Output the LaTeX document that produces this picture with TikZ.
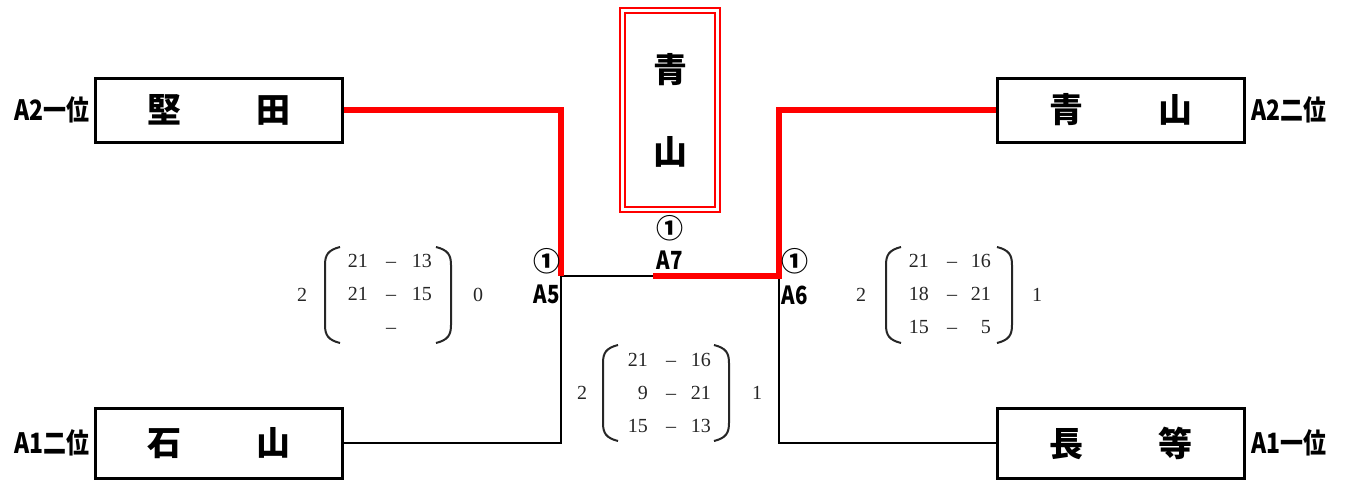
\documentclass[tikz,border=0pt]{standalone}
\usepackage{fontspec}
\usetikzlibrary{positioning}
\newfontfamily\jpfont{Noto Sans CJK JP}
\newfontfamily\lblfont{Noto Sans CJK JP}[FakeStretch=0.82]
\newfontfamily\ptfont{Liberation Serif}
\definecolor{scoregray}{HTML}{262626}
\definecolor{winred}{HTML}{FF0000}

\tikzset{
	team/.style={draw, line width=3pt, minimum width=247pt, minimum height=64pt, inner sep=0pt, font=\jpfont\bfseries\fontsize{34}{34}\selectfont},
	champ/.style={draw=winred, double, double distance=3pt, line width=2pt, minimum width=95pt, minimum height=199pt, inner sep=0pt, align=center, font=\jpfont\bfseries\fontsize{34}{82}\selectfont},
	lbl/.style={inner sep=0pt, font=\lblfont\bfseries\fontsize{28}{28}\selectfont},
	rnd/.style={inner sep=0pt, font=\lblfont\bfseries\fontsize{25}{25}\selectfont},
	circ/.style={inner sep=0pt, font=\jpfont\bfseries\fontsize{27}{27}\selectfont},
	win/.style={draw=winred, line width=6.5pt},
	lose/.style={line width=1.2pt},
	pt/.style={inner sep=0pt, text height=13pt, text depth=0pt, text=scoregray, font=\ptfont\fontsize{20}{20}\selectfont},
	paren/.style={line width=2pt, scoregray}
}

\begin{document}
\begin{tikzpicture}[x=1pt, y=-1pt]
	\useasboundingbox (0,0) rectangle (1345,482);
	
	%teams
	\node[team] (kat) at (219,110) {堅\hspace{76pt}田};
	\node[team, minimum height=70pt] (ish) at (219,443) {石\hspace{76pt}山};
	\node[team] (aoy) at (1121,110) {青\hspace{76pt}山};
	\node[team, minimum height=70pt] (nag) at (1121,443) {長\hspace{76pt}等};
	\node[lbl, left=4pt of kat] (kat-l) {A2一位};
	\node[lbl, left=4pt of ish] (ish-l) {A1二位};
	\node[lbl, right=5pt of aoy] (aoy-l) {A2二位};
	\node[lbl, right=5pt of nag] (nag-l) {A1一位};
	
	%winner
	\node[champ] (yu) at (670,110) {青\\山};
	
	%bracket
	\coordinate (j5) at (561,276);
	\coordinate (j7) at (653,276);
	\coordinate (j6) at (779,276);
	\draw[lose] (ish.east) -| (j5) -- (j7);
	\draw[lose] (nag.west) -| (j6);
	\draw[win] (kat.east) -| (j5);
	\draw[win] (j7) -- (j6) |- (aoy.west);
	
	%match labels
	\node[circ] (a5c) at (547,261) {①};
	\node[rnd] (a5) at (547,294) {A5};
	\node[circ] (a6c) at (795,261) {①};
	\node[rnd] (a6) at (795,295) {A6};
	\node[circ] (a7c) at (670,228) {①};
	\node[rnd] (a7) at (670,260) {A7};
	
	%score brackets
	\foreach \cx/\cy in {388/295, 666/393, 949/295}{
		\draw[paren] (\cx-48,\cy-48) .. controls (\cx-60,\cy-45) and (\cx-63,\cy-40) .. (\cx-63,\cy-30) -- (\cx-63,\cy+30) .. controls (\cx-63,\cy+40) and (\cx-60,\cy+45) .. (\cx-48,\cy+48);
		\draw[paren] (\cx+48,\cy-48) .. controls (\cx+60,\cy-45) and (\cx+63,\cy-40) .. (\cx+63,\cy-30) -- (\cx+63,\cy+30) .. controls (\cx+63,\cy+40) and (\cx+60,\cy+45) .. (\cx+48,\cy+48);
	}
	
	%A5 score
	\node[pt] (s5l) at (302,295) {2};
	\node[pt] (s5r) at (478,295) {0};
	\foreach \a/\b [count=\i] in {21/13, 21/15, /}{
		\node[pt, anchor=east] (s5a\i) at (368, 228+33*\i) {\a};
		\node[pt] (s5d\i) at (391, 228+33*\i) {–};
		\node[pt, anchor=east] (s5b\i) at (432, 228+33*\i) {\b};
	}
	
	%A7 score
	\node[pt] (s7l) at (582,393) {2};
	\node[pt] (s7r) at (757,393) {1};
	\foreach \a/\b [count=\i] in {21/16, 9/21, 15/13}{
		\node[pt, anchor=east] (s7a\i) at (648, 327+33*\i) {\a};
		\node[pt] (s7d\i) at (671, 327+33*\i) {–};
		\node[pt, anchor=east] (s7b\i) at (711, 327+33*\i) {\b};
	}
	
	%A6 score
	\node[pt] (s6l) at (861,295) {2};
	\node[pt] (s6r) at (1037,295) {1};
	\foreach \a/\b [count=\i] in {21/16, 18/21, 15/5}{
		\node[pt, anchor=east] (s6a\i) at (929, 228+33*\i) {\a};
		\node[pt] (s6d\i) at (952, 228+33*\i) {–};
		\node[pt, anchor=east] (s6b\i) at (991, 228+33*\i) {\b};
	}
\end{tikzpicture}
\end{document}
